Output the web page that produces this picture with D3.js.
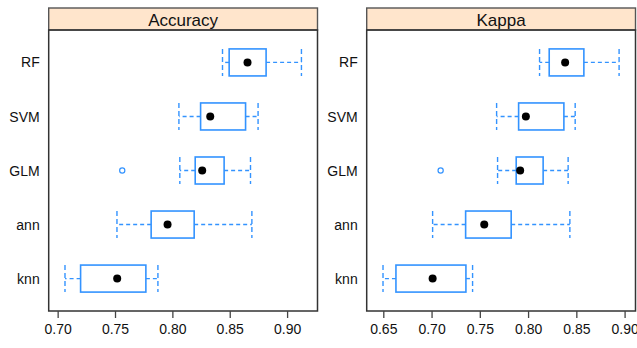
<!DOCTYPE html>
<html>
<head>
  <meta charset="utf-8">
  <script src="https://d3js.org/d3.v7.min.js"></script>
  <style>
    body { margin: 0; background: #fff; }
    text { font-family: "Liberation Sans", Arial, sans-serif; fill: #111; }
  </style>
</head>
<body>
<script>
  // models, top to bottom
  var models = ['RF', 'SVM', 'GLM', 'ann', 'knn'];

  // Accuracy: five number summaries
  var accMin = [0.8437, 0.8057, 0.8065, 0.7517, 0.7064];
  var accQ1  = [0.8495, 0.8246, 0.8199, 0.7815, 0.7200];
  var accMed = [0.8655, 0.8330, 0.8260, 0.7958, 0.7519];
  var accQ3  = [0.8817, 0.8638, 0.8451, 0.8190, 0.7769];
  var accMax = [0.9125, 0.8747, 0.8681, 0.8693, 0.7874];
  var accOut = [[], [], [0.7563], [], []];
  var accTicks = [0.70, 0.75, 0.80, 0.85, 0.90];

  // Kappa
  var kapMin = [0.8119, 0.7674, 0.7684, 0.7011, 0.6497];
  var kapQ1  = [0.8219, 0.7902, 0.7877, 0.7353, 0.6631];
  var kapMed = [0.8384, 0.7977, 0.7918, 0.7546, 0.7011];
  var kapQ3  = [0.8578, 0.8371, 0.8156, 0.7825, 0.7356];
  var kapMax = [0.8943, 0.8488, 0.8415, 0.8433, 0.7425];
  var kapOut = [[], [], [0.7094], [], []];
  var kapTicks = [0.65, 0.70, 0.75, 0.80, 0.85, 0.90];

  var W = 637, H = 348;
  var blue = '#3393ff';

  var svg = d3.select('body').append('svg')
    .attr('width', W).attr('height', H);

  var stripTop = 8, panelTop = 30, panelBottom = 311;

  function panel(opts) {
    var x = d3.scaleLinear().domain(opts.domain).range([opts.left, opts.right]);
    var y = d3.scalePoint().domain(models).range([panelTop, panelBottom]).padding(0.6);
    var bh = y.step() * 0.5;
    var g = svg.append('g');

    // strip
    g.append('rect')
      .attr('x', opts.left).attr('y', stripTop)
      .attr('width', opts.right - opts.left).attr('height', panelTop - stripTop)
      .attr('fill', '#ffe5cc').attr('stroke', '#555').attr('stroke-width', 1.4);
    g.append('text')
      .attr('x', (opts.left + opts.right) / 2).attr('y', 26)
      .attr('text-anchor', 'middle').style('font-size', '17px')
      .text(opts.title);

    // panel box
    g.append('rect')
      .attr('x', opts.left).attr('y', panelTop)
      .attr('width', opts.right - opts.left).attr('height', panelBottom - panelTop)
      .attr('fill', 'none').attr('stroke', '#333').attr('stroke-width', 1.5);

    // x axis
    var ax = g.append('g').attr('transform', 'translate(0,' + panelBottom + ')')
      .call(d3.axisBottom(x).tickValues(opts.ticks).tickFormat(d3.format('.2f'))
        .tickSize(7).tickPadding(6));
    ax.select('.domain').remove();
    ax.selectAll('line').attr('stroke', '#444').attr('stroke-width', 1.3);
    ax.selectAll('text').style('font-size', '14px').attr('fill', '#111')
      .style('font-family', '"Liberation Sans", Arial, sans-serif');

    // y labels
    g.selectAll('.ylab').data(models).enter().append('text')
      .attr('x', opts.left - 9).attr('y', function(d) { return y(d); })
      .attr('dy', '0.36em').attr('text-anchor', 'end').style('font-size', '14px')
      .text(function(d) { return d; });

    models.forEach(function(m, i) {
      var cy = y(m);
      var rows = g.append('g');
      // whiskers
      [[opts.q1[i], opts.min[i]], [opts.q3[i], opts.max[i]]].forEach(function(w) {
        rows.append('line')
          .attr('x1', x(w[0])).attr('x2', x(w[1])).attr('y1', cy).attr('y2', cy)
          .attr('stroke', blue).attr('stroke-width', 1.4).attr('stroke-dasharray', '4,3');
      });
      [opts.min[i], opts.max[i]].forEach(function(v) {
        rows.append('line')
          .attr('x1', x(v)).attr('x2', x(v)).attr('y1', cy - bh / 2).attr('y2', cy + bh / 2)
          .attr('stroke', blue).attr('stroke-width', 1.4).attr('stroke-dasharray', '5,3');
      });
      // box
      rows.append('rect')
        .attr('x', x(opts.q1[i])).attr('y', cy - bh / 2)
        .attr('width', x(opts.q3[i]) - x(opts.q1[i])).attr('height', bh)
        .attr('fill', '#fff').attr('stroke', blue).attr('stroke-width', 1.6);
      // median dot
      rows.append('circle')
        .attr('cx', x(opts.med[i])).attr('cy', cy).attr('r', 4)
        .attr('fill', '#000');
      // outliers
      opts.out[i].forEach(function(v) {
        rows.append('circle')
          .attr('cx', x(v)).attr('cy', cy).attr('r', 2.6)
          .attr('fill', 'none').attr('stroke', blue).attr('stroke-width', 1.2);
      });
    });
  }

  panel({ title: 'Accuracy', left: 48.7, right: 317.5, domain: [0.6922, 0.9265],
    ticks: accTicks, min: accMin, q1: accQ1, med: accMed, q3: accQ3, max: accMax, out: accOut });
  panel({ title: 'Kappa', left: 366.7, right: 635.5, domain: [0.6328, 0.9113],
    ticks: kapTicks, min: kapMin, q1: kapQ1, med: kapMed, q3: kapQ3, max: kapMax, out: kapOut });
</script>
</body>
</html>
